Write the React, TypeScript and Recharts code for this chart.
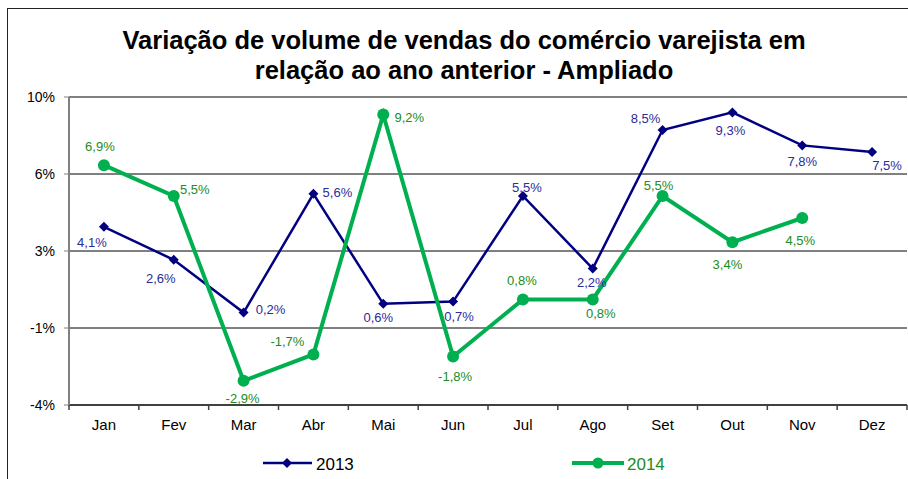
import { CartesianGrid, LabelList, Line, LineChart, XAxis, YAxis } from "recharts";

const months = ["Jan", "Fev", "Mar", "Abr", "Mai", "Jun", "Jul", "Ago", "Set", "Out", "Nov", "Dez"];
const vendas2013 = [4.1, 2.6, 0.2, 5.6, 0.6, 0.7, 5.5, 2.2, 8.5, 9.3, 7.8, 7.5];
const vendas2014 = [6.9, 5.5, -2.9, -1.7, 9.2, -1.8, 0.8, 0.8, 5.5, 3.4, 4.5, null];
const yTicks = [-4, -0.5, 3, 6.5, 10];
const yTickLabels = ["-4%", "-1%", "3%", "6%", "10%"];

// label placement (dx, dy from the point), like Excel put them
const offsets2013 = [
  [-12, 16], [-13, 19], [27, -3], [24, -1], [-5, 14], [6, 15],
  [4, -9], [-1, 14], [-17, -12], [-2, 18], [0, 16], [15, 13],
];
const offsets2014 = [
  [-4, -19], [21, -7], [-1, 18], [-26, -13], [26, 3], [2, 20],
  [-1, -19], [8, 14], [-4, -11], [-5, 22], [-2, 22], [0, 0],
];

const W = 908;
const H = 479;
const PLOT_LEFT = 69;
const PLOT_RIGHT = 907;
const BAND = (PLOT_RIGHT - PLOT_LEFT) / months.length;
const NAVY = "#000080";
const GREEN = "#00B050";
const NAVY_TEXT = "#2B2B99";
const GREEN_TEXT = "#228B22";
const FONT = "Arial, 'Liberation Sans', sans-serif";

const data = months.map((m, i) => ({ month: m, y2013: vendas2013[i], y2014: vendas2014[i] }));

const fmt = (v: number) => v.toFixed(1).replace(".", ",") + "%";

const Diamond = (props: any) => {
  const { cx, cy } = props;
  if (cx == null || cy == null) return null;
  const s = 5;
  return <path d={`M${cx},${cy - s}L${cx + s},${cy}L${cx},${cy + s}L${cx - s},${cy}Z`} fill={NAVY} />;
};

const Circle = (props: any) => {
  const { cx, cy, value } = props;
  if (cx == null || cy == null || value == null) return null;
  return <circle cx={cx} cy={cy} r={6} fill={GREEN} />;
};

const makeLabel = (offsets: number[][], color: string) => (props: any) => {
  const { x, y, value, index } = props;
  if (value == null) return null;
  const [dx, dy] = offsets[index];
  return (
    <text x={x + dx} y={y + dy} fill={color} fontSize={13} fontFamily={FONT} textAnchor="middle" dominantBaseline="central">
      {fmt(value)}
    </text>
  );
};

const XTick = (props: any) => {
  const { x, payload, index } = props;
  const axisY = 405;
  return (
    <g>
      <line x1={x - BAND / 2} x2={x - BAND / 2} y1={axisY} y2={axisY + 5} stroke="#404040" strokeWidth={1.5} />
      {index === months.length - 1 && (
        <line x1={x + BAND / 2} x2={x + BAND / 2} y1={axisY} y2={axisY + 5} stroke="#404040" strokeWidth={1.5} />
      )}
      <text x={x} y={axisY + 19} fill="#000" fontSize={15} fontFamily={FONT} textAnchor="middle" dominantBaseline="central">
        {payload.value}
      </text>
    </g>
  );
};

export default function App() {
  return (
    <div style={{ position: "absolute", left: 0, top: 0, width: W, height: H, background: "#fff", overflow: "hidden", fontFamily: FONT }}>
      <div style={{ position: "absolute", left: 7, top: 8, width: 960, height: 600, borderLeft: "1.5px solid #222", borderTop: "1.5px solid #222" }} />
      <div
        style={{
          position: "absolute",
          left: 0,
          width: 928,
          top: 25,
          textAlign: "center",
          fontSize: 25.5,
          fontWeight: 700,
          lineHeight: "30px",
          color: "#000",
        }}
      >
        Variação de volume de vendas do comércio varejista em
        <br />
        relação ao ano anterior - Ampliado
      </div>
      <div style={{ position: "absolute", left: 0, top: 0 }}>
        <LineChart width={W} height={H} data={data} margin={{ top: 97, right: W - PLOT_RIGHT, bottom: 44, left: 8 }}>
          <CartesianGrid vertical={false} stroke="#000" strokeWidth={1} />
          <XAxis
            dataKey="month"
            height={30}
            padding={{ left: BAND / 2, right: BAND / 2 }}
            axisLine={{ stroke: "#404040", strokeWidth: 2 }}
            tickLine={false}
            tick={<XTick />}
            interval={0}
          />
          <YAxis
            width={PLOT_LEFT - 8}
            domain={[-4, 10]}
            ticks={yTicks}
            interval={0}
            allowDataOverflow
            axisLine={{ stroke: "#808080", strokeWidth: 2 }}
            tickLine={{ stroke: "#808080" }}
            tickSize={5}
            tickMargin={9}
            tick={{ fill: "#000", fontSize: 14, fontFamily: FONT }}
            tickFormatter={(v: number) => yTickLabels[yTicks.indexOf(v)]}
          />
          <Line dataKey="y2013" stroke={NAVY} strokeWidth={2.5} dot={<Diamond />} isAnimationActive={false}>
            <LabelList dataKey="y2013" content={makeLabel(offsets2013, NAVY_TEXT)} />
          </Line>
          <Line dataKey="y2014" stroke={GREEN} strokeWidth={4} dot={<Circle />} isAnimationActive={false}>
            <LabelList dataKey="y2014" content={makeLabel(offsets2014, GREEN_TEXT)} />
          </Line>
        </LineChart>
      </div>
      <svg style={{ position: "absolute", left: 0, top: 0 }} width={W} height={H}>
        <line x1={263} x2={312} y1={463} y2={463} stroke={NAVY} strokeWidth={2.5} />
        <path d="M287,458L292,463L287,468L282,463Z" fill={NAVY} />
        <text x={316} y={464} fontSize={17} fontFamily={FONT} fill="#000" dominantBaseline="central">2013</text>
        <line x1={572} x2={624} y1={463} y2={463} stroke={GREEN} strokeWidth={4} />
        <circle cx={598} cy={463} r={5.5} fill={GREEN} />
        <text x={627} y={464} fontSize={17} fontFamily={FONT} fill={GREEN_TEXT} dominantBaseline="central">2014</text>
      </svg>
    </div>
  );
}
